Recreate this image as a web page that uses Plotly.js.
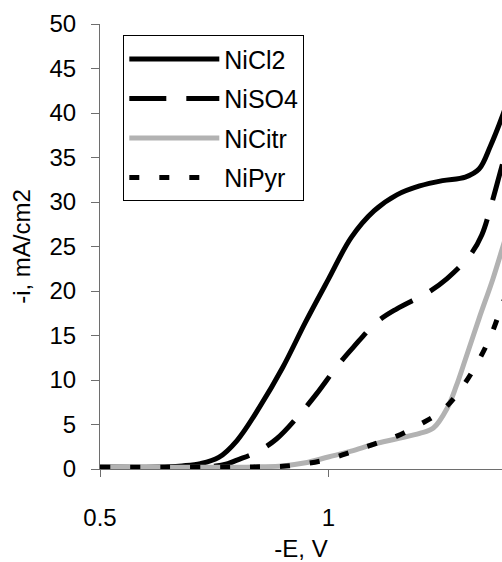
<!DOCTYPE html>
<html>
<head>
<meta charset="utf-8">
<script src="https://cdn.plot.ly/plotly-3.0.1.min.js"></script>
<style>html,body{margin:0;padding:0;background:#fff;overflow:hidden}</style>
</head>
<body>
<div id="chart" style="width:502px;height:562px"></div>
<script>
const seriesNames = ["NiCl2", "NiSO4", "NiCitr", "NiPyr"];

const eCl2 = [0.50, 0.60, 0.65, 0.68, 0.72, 0.76, 0.80, 0.85, 0.90, 0.95, 1.00, 1.05, 1.10, 1.15, 1.20, 1.25, 1.30, 1.33, 1.355, 1.38, 1.40];
const iCl2 = [0.2, 0.2, 0.25, 0.35, 0.6, 1.3, 3.2, 7.0, 11.4, 16.5, 21.3, 26.0, 29.0, 30.8, 31.8, 32.4, 32.8, 33.7, 36.3, 39.5, 42.5];

const eSO4 = [0.50, 0.70, 0.75, 0.78, 0.80, 0.843, 0.887, 0.94, 0.975, 1.02, 1.055, 1.106, 1.15, 1.22, 1.26, 1.31, 1.336, 1.358, 1.38, 1.40];
const iSO4 = [0.2, 0.2, 0.3, 0.6, 1.0, 1.9, 3.4, 6.3, 8.5, 11.6, 13.7, 16.5, 18.0, 19.9, 21.4, 24.0, 26.3, 29.9, 34.0, 37.5];

const eCitr = [0.50, 0.80, 0.85, 0.90, 0.95, 1.00, 1.05, 1.10, 1.15, 1.20, 1.23, 1.26, 1.28, 1.30, 1.33, 1.36, 1.38, 1.40];
const iCitr = [0.2, 0.2, 0.25, 0.35, 0.7, 1.35, 2.0, 2.8, 3.4, 4.0, 4.6, 6.8, 9.3, 12.3, 16.9, 21.3, 24.6, 28.0];

const ePyr = [0.50, 0.80, 0.85, 0.90, 0.95, 1.00, 1.05, 1.10, 1.15, 1.20, 1.25, 1.30, 1.35, 1.38, 1.40];
const iPyr = [0.2, 0.2, 0.25, 0.3, 0.6, 1.1, 1.9, 2.8, 3.7, 5.0, 6.6, 9.7, 14.3, 18.3, 21.0];

const xTicks = [0.5, 1, 1.5];
const yTicks = [0, 5, 10, 15, 20, 25, 30, 35, 40, 45, 50];

const FONT = "Liberation Sans, Arial, sans-serif";

function trace(name, x, y, line, group) {
  return {x: x, y: y, name: name, type: "scatter", mode: "lines",
          legendgroup: group, line: Object.assign({shape: "spline", smoothing: 1}, line)};
}

const data = [
  trace(seriesNames[0], eCl2, iCl2, {color: "#000000", width: 5}, "a"),
  trace(seriesNames[1], eSO4, iSO4, {color: "#000000", width: 5, dash: "37px,20px"}, "b"),
  trace(seriesNames[2], eCitr, iCitr, {color: "#b2b2b2", width: 5}, "c"),
  trace(seriesNames[3], ePyr, iPyr, {color: "#000000", width: 5, dash: "10px,20px"}, "d")
];

const layout = {
  width: 502, height: 562,
  margin: {l: 100, r: 0, t: 24, b: 93, pad: 0},
  paper_bgcolor: "#ffffff", plot_bgcolor: "#ffffff",
  font: {family: FONT, size: 24, color: "#000000"},
  showlegend: true,
  legend: {
    x: 0.058, y: 0.975, xanchor: "left", yanchor: "top",
    bordercolor: "#000000", borderwidth: 1, bgcolor: "#ffffff",
    font: {family: FONT, size: 25, color: "#000000"},
    traceorder: "grouped", tracegroupgap: 4, itemwidth: 90
  },
  xaxis: {
    range: [0.5, 1.3803], tickvals: xTicks, ticktext: xTicks.map(String),
    automargin: false,
    showgrid: false, zeroline: false, showline: true, linecolor: "#6e6e6e", linewidth: 1,
    ticks: "outside", ticklen: 7, tickcolor: "#6e6e6e", tickwidth: 1,
    ticklabelstandoff: 20,
    tickfont: {family: FONT, size: 24, color: "#000000"},
    title: {text: "-E, V", font: {family: FONT, size: 24, color: "#000000"}, standoff: 20}
  },
  yaxis: {
    range: [0, 50], tickvals: yTicks, ticktext: yTicks.map(String),
    automargin: false,
    showgrid: false, zeroline: false, showline: true, linecolor: "#6e6e6e", linewidth: 1,
    ticks: "outside", ticklen: 8, tickcolor: "#6e6e6e", tickwidth: 1,
    ticklabelstandoff: 10,
    tickfont: {family: FONT, size: 24, color: "#000000"},
    title: {text: "-i, mA/cm2", font: {family: FONT, size: 24, color: "#000000"}, standoff: 12}
  }
};

Plotly.newPlot("chart", data, layout, {displayModeBar: false, staticPlot: true});
</script>
</body>
</html>
